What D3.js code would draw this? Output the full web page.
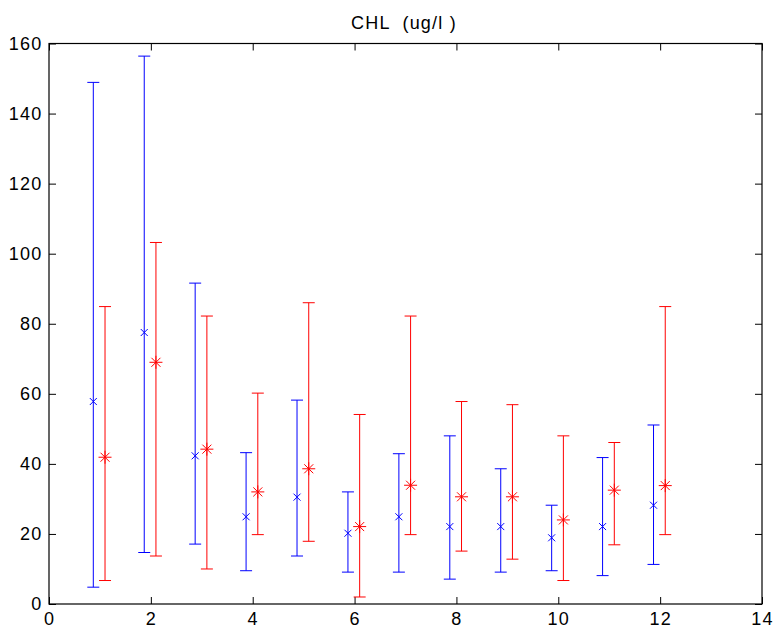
<!DOCTYPE html>
<html>
<head>
<meta charset="utf-8">
<script src="https://cdn.jsdelivr.net/npm/d3@7"></script>
<style>
  html, body { margin: 0; padding: 0; background: #fff; }
  svg { display: block; font-family: "Liberation Sans", Arial, sans-serif; }
  text { white-space: pre; }
</style>
</head>
<body>
<svg id="chart" width="776" height="636"></svg>
<script>
// Monthly CHL statistics: two series, each with a central value and a range
const months = [1, 2, 3, 4, 5, 6, 7, 8, 9, 10, 11, 12];

const blueMid  = [57.8, 77.5, 42.3, 24.9, 30.5, 20.2, 24.9, 22.1, 22.1, 18.9, 22.1, 28.2];
const blueLow  = [4.8, 14.7, 17.1, 9.5, 13.7, 9.1, 9.1, 7.1, 9.1, 9.5, 8.1, 11.3];
const blueHigh = [148.9, 156.4, 91.6, 43.2, 58.2, 32.0, 42.9, 48.0, 38.6, 28.2, 41.8, 51.1];

const redMid  = [41.9, 69.0, 44.2, 32.0, 38.6, 22.1, 33.9, 30.6, 30.6, 24.0, 32.5, 33.8];
const redLow  = [6.7, 13.7, 10.0, 19.8, 17.9, 2.0, 19.8, 15.1, 12.8, 6.7, 16.9, 19.8];
const redHigh = [84.9, 103.2, 82.2, 60.2, 86.0, 54.1, 82.2, 57.8, 56.9, 48.0, 46.1, 84.9];

const xTicks = [0, 2, 4, 6, 8, 10, 12, 14];
const yTicks = [0, 20, 40, 60, 80, 100, 120, 140, 160];
const title = "CHL  (ug/l )";

const svg = d3.select("#chart");
const plotLeft = 49, plotRight = 762, plotTop = 43.5, plotBottom = 604;

const x = d3.scaleLinear().domain([0, 14]).range([plotLeft, plotRight]);
const y = d3.scaleLinear().domain([0, 160]).range([plotBottom, plotTop]);

const tickLen = 7;
const axisColor = "#000";
const fontSize = "18px";
const letterSpacing = "1.2px";

// Box and ticks on all four sides, pointing inward
const g = svg.append("g");

const bottomAxis = d3.axisBottom(x).tickValues(xTicks).tickSizeInner(-tickLen).tickSizeOuter(0).tickPadding(8);
const topAxis = d3.axisTop(x).tickValues(xTicks).tickSizeInner(-tickLen).tickSizeOuter(0).tickFormat("");
const leftAxis = d3.axisLeft(y).tickValues(yTicks).tickSizeInner(-tickLen).tickSizeOuter(0).tickPadding(6.5);
const rightAxis = d3.axisRight(y).tickValues(yTicks).tickSizeInner(-tickLen).tickSizeOuter(0).tickFormat("");

function styleAxis(sel) {
  sel.select(".domain").remove();
  sel.selectAll("line").attr("stroke", axisColor).attr("stroke-width", 1);
  sel.selectAll("text").attr("fill", "#000").style("font-size", fontSize)
    .style("letter-spacing", letterSpacing)
    .style("font-family", "\"Liberation Sans\", Arial, sans-serif");
}

g.append("g").attr("transform", `translate(0,${plotBottom})`).call(bottomAxis).call(styleAxis);
g.append("g").attr("transform", `translate(0,${plotTop})`).call(topAxis).call(styleAxis);
g.append("g").attr("transform", `translate(${plotLeft},0)`).call(leftAxis).call(styleAxis);
g.append("g").attr("transform", `translate(${plotRight},0)`).call(rightAxis).call(styleAxis);

g.append("rect")
  .attr("x", plotLeft).attr("y", plotTop)
  .attr("width", plotRight - plotLeft).attr("height", plotBottom - plotTop)
  .attr("fill", "none").attr("stroke", axisColor).attr("stroke-width", 1.2);

// Title
svg.append("text")
  .attr("x", 404).attr("y", 28.5)
  .attr("text-anchor", "middle")
  .style("font-size", fontSize)
  .style("letter-spacing", letterSpacing)
  .attr("fill", "#000")
  .text(title);

// Error bars with caps
const capHalf = 6;
function drawSeries(mid, low, high, offset, color, marker) {
  const data = months.map((m, i) => ({ m, mid: mid[i], low: low[i], high: high[i] }));
  const s = svg.append("g").attr("stroke", color).attr("stroke-width", 1).attr("fill", "none");
  const grp = s.selectAll("g").data(data).join("g")
    .attr("transform", d => `translate(${x(d.m + offset)},0)`);
  grp.append("line").attr("x1", 0).attr("x2", 0)
    .attr("y1", d => y(d.low)).attr("y2", d => y(d.high));
  grp.append("line").attr("x1", -capHalf).attr("x2", capHalf)
    .attr("y1", d => y(d.high)).attr("y2", d => y(d.high));
  grp.append("line").attr("x1", -capHalf).attr("x2", capHalf)
    .attr("y1", d => y(d.low)).attr("y2", d => y(d.low));
  grp.append("path")
    .attr("transform", d => `translate(0,${y(d.mid)})`)
    .attr("d", marker);
}

const xMark = "M-3.5,-3.5L3.5,3.5M-3.5,3.5L3.5,-3.5";
const starMark = "M-6.5,0L6.5,0M0,-6.5L0,6.5M-4.5,-4.5L4.5,4.5M-4.5,4.5L4.5,-4.5";

drawSeries(blueMid, blueLow, blueHigh, -0.13, "#0000ff", xMark);
drawSeries(redMid, redLow, redHigh, 0.10, "#ff0000", starMark);
</script>
</body>
</html>
